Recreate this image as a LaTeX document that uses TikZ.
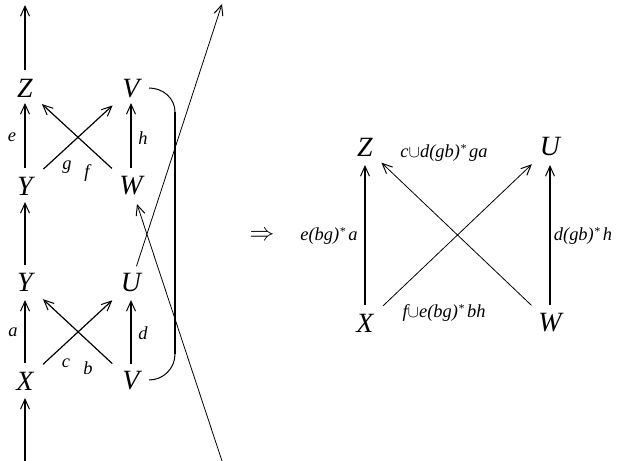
\documentclass[tikz,border=0pt]{standalone}
\usepackage{fontspec}
\setmainfont{Liberation Serif}
\usetikzlibrary{arrows.meta,calc}
\newcommand{\starsup}{\raisebox{0.55ex}{\fontsize{12}{12}\selectfont *}}
\begin{document}
\begin{tikzpicture}[x=1bp,y=-1bp,
  obj/.style={inner sep=0pt,font=\fontsize{28}{28}\selectfont\itshape},
  lbl/.style={inner sep=0pt,font=\fontsize{18.5}{18.5}\selectfont\itshape},
  tip/.style={-{Straight Barb[length=10bp,width=9bp,line width=1bp]}},
  thickarr/.style={tip,line width=1.7bp},
  diagarr/.style={tip,line width=1.2bp},
  thinarr/.style={tip,line width=0.8bp}]
\useasboundingbox (0,0) rectangle (617,461);
% left diagram nodes
\node[obj] (Zl) at (25,88.5) {Z};
\node[obj] (Yu) at (25,186) {Y};
\node[obj] (Yd) at (25,282.5) {Y};
\node[obj] (Xl) at (25,381) {X};
\node[obj] (Vt) at (131,88.5) {V};
\node[obj] (Wl) at (131,186) {W};
\node[obj] (Ul) at (131,283) {U};
\node[obj] (Vb) at (131,381) {V};
\coordinate (topend) at (25,5);
\coordinate (botstart) at (25,461);
\coordinate (Aend) at (222,4);
\coordinate (Bstart) at (222,461);
% vertical arrows
\draw[thickarr] ($(Zl)!18.5bp!(topend)$) -- (topend);
\draw[thickarr] ($(Yu)!18bp!(Zl)$) -- ($(Zl)!14.5bp!(Yu)$);
\draw[thickarr] ($(Yd)!17.5bp!(Yu)$) -- ($(Yu)!16bp!(Yd)$);
\draw[thickarr] ($(Xl)!18bp!(Yd)$) -- ($(Yd)!17.5bp!(Xl)$);
\draw[thickarr] (botstart) -- ($(Xl)!17bp!(botstart)$);
\draw[thickarr] ($(Wl)!18bp!(Vt)$) -- ($(Vt)!14.5bp!(Wl)$);
\draw[thickarr] ($(Vb)!17bp!(Ul)$) -- ($(Ul)!17bp!(Vb)$);
% crosses
\draw[diagarr] ($(Yu)!25bp!(Vt)$) -- ($(Vt)!25bp!(Yu)$);
\draw[diagarr] ($(Wl)!26bp!(Zl)$) -- ($(Zl)!23bp!(Wl)$);
\draw[diagarr] ($(Xl)!24.5bp!(Ul)$) -- ($(Ul)!25.5bp!(Xl)$);
\draw[diagarr] ($(Vb)!25.5bp!(Yd)$) -- ($(Yd)!24.5bp!(Vb)$);
% labels
\node[lbl] (le) at (12,137) {e};
\node[lbl] (lh) at (143,138) {h};
\node[lbl] (lg) at (67,167) {g};
\node[lbl] (lf) at (87,173) {f};
\node[lbl] (la) at (13,332) {a};
\node[lbl] (ld) at (143,333) {d};
\node[lbl] (lc) at (66,363) {c};
\node[lbl] (lb) at (88,368) {b};
% bracket
\coordinate (br1) at (149,88);
\coordinate (br2) at (175,112);
\coordinate (br3) at (175,354);
\coordinate (br4) at (149,380);
\draw[line width=1bp] (br1) to[out=0,in=90] (br2);
\draw[line width=1.7bp] (br2) -- (br3);
\draw[line width=1bp] (br3) to[out=-90,in=0] (br4);
% long lines
\draw[thinarr] ($(Ul)!17.7bp!(Aend)$) -- (Aend);
\draw[thinarr] (Bstart) -- ($(Wl)!19bp!(Bstart)$);
% implies
\node[inner sep=0pt,font=\fontsize{25}{25}\selectfont] (imp) at (262,236) {$\Rightarrow$};
% right diagram
\node[obj] (Zr) at (365,147) {Z};
\node[obj] (Ur) at (550,147) {U};
\node[obj] (Xr) at (365,323) {X};
\node[obj] (Wr) at (550,323) {W};
\draw[thickarr] ($(Xr)!18bp!(Zr)$) -- ($(Zr)!18bp!(Xr)$);
\draw[thickarr] ($(Wr)!18bp!(Ur)$) -- ($(Ur)!18bp!(Wr)$);
\draw[thinarr] ($(Xr)!24.8bp!(Ur)$) -- ($(Ur)!25bp!(Xr)$);
\draw[thinarr] ($(Wr)!25.5bp!(Zr)$) -- ($(Zr)!22.7bp!(Wr)$);
\node[lbl] (l1) at (329,236) {e(bg)\starsup\,a};
\node[lbl] (l2) at (583,236) {d(gb)\starsup\,h};
\node[lbl] (l3) at (444,153) {c$\cup$d(gb)\starsup\,ga};
\node[lbl] (l4) at (444,313) {f$\cup$e(bg)\starsup\,bh};
\end{tikzpicture}
\end{document}
